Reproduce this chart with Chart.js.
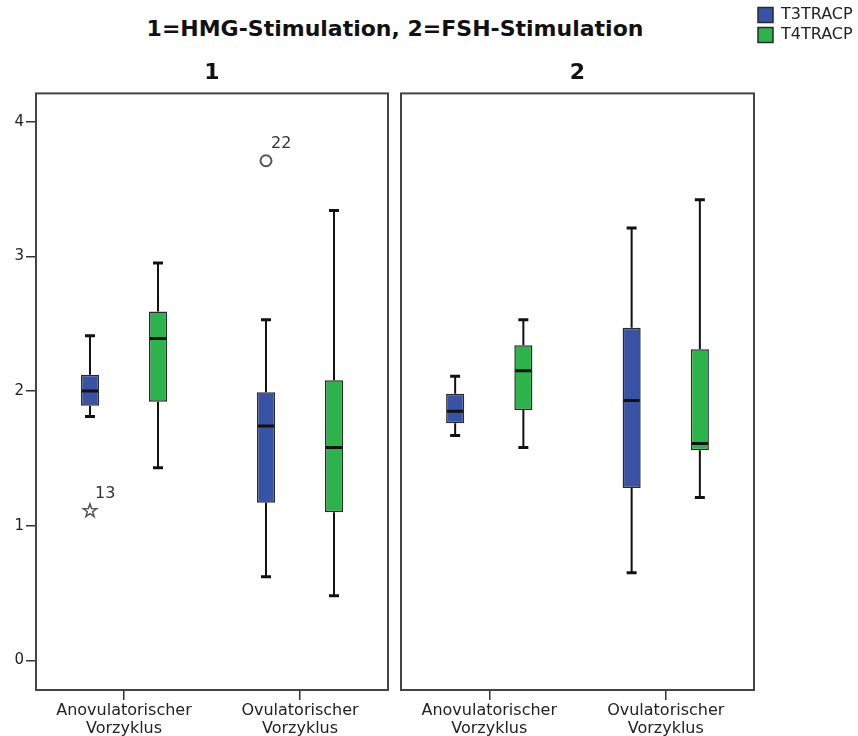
<!DOCTYPE html>
<html>
<head>
<meta charset="utf-8">
<script src="https://cdn.jsdelivr.net/npm/chart.js@4.4.1/dist/chart.umd.min.js"></script>
<style>
  html, body { margin: 0; padding: 0; background: #fff; }
  #wrap { position: relative; width: 858px; height: 736px; overflow: hidden; background: #fff; }
  #title { position: absolute; left: 0; top: 16px; width: 790px; text-align: center;
           font: bold 22px "DejaVu Sans"; line-height: 26px; color: #111; }
  #cA { position: absolute; left: 0; top: 0; }
  #cB { position: absolute; left: 395px; top: 0; }
</style>
</head>
<body>
<div id="wrap">
  <div id="title">1=HMG-Stimulation, 2=FSH-Stimulation</div>
  <canvas id="cA" width="395" height="736"></canvas>
  <canvas id="cB" width="463" height="736"></canvas>
</div>
<script>
// Kategorien, Reihen, Achse
const categories = [['Anovulatorischer', 'Vorzyklus'], ['Ovulatorischer', 'Vorzyklus']];
const seriesNames = ['T3TRACP', 'T4TRACP'];
const seriesColors = ['#3953a4', '#2db34b'];
const yTicks = [0, 1, 2, 3, 4];

// 1 = HMG-Stimulation
const hmgT3Min = [1.81, 0.62];
const hmgT3Q1  = [1.89, 1.17];
const hmgT3Med = [2.00, 1.74];
const hmgT3Q3  = [2.12, 1.99];
const hmgT3Max = [2.41, 2.53];
const hmgT4Min = [1.43, 0.48];
const hmgT4Q1  = [1.92, 1.10];
const hmgT4Med = [2.39, 1.58];
const hmgT4Q3  = [2.59, 2.08];
const hmgT4Max = [2.95, 3.34];
const hmgOutliers = [
  { series: 0, cat: 0, value: 1.11, label: '13', shape: 'star' },
  { series: 0, cat: 1, value: 3.71, label: '22', shape: 'circle' }
];

// 2 = FSH-Stimulation
const fshT3Min = [1.67, 0.65];
const fshT3Q1  = [1.76, 1.28];
const fshT3Med = [1.85, 1.93];
const fshT3Q3  = [1.98, 2.47];
const fshT3Max = [2.11, 3.21];
const fshT4Min = [1.58, 1.21];
const fshT4Q1  = [1.86, 1.56];
const fshT4Med = [2.15, 1.61];
const fshT4Q3  = [2.34, 2.31];
const fshT4Max = [2.53, 3.42];
const fshOutliers = [];

const FONT = 'DejaVu Sans';

// Whisker, Median, Ausreisser und Rahmen
const boxWhisker = {
  id: 'boxWhisker',
  afterDatasetsDraw(chart, args, opts) {
    const ctx = chart.ctx;
    const y = chart.scales.y;
    ctx.save();
    chart.data.datasets.forEach((ds, d) => {
      const st = ds.stats;
      chart.getDatasetMeta(d).data.forEach((bar, i) => {
        const x = bar.x, half = bar.width / 2, cap = 5;
        ctx.strokeStyle = '#111';
        ctx.lineWidth = 2;
        ctx.beginPath();
        ctx.moveTo(x, y.getPixelForValue(st.q3[i]));
        ctx.lineTo(x, y.getPixelForValue(st.max[i]));
        ctx.moveTo(x, y.getPixelForValue(st.q1[i]));
        ctx.lineTo(x, y.getPixelForValue(st.min[i]));
        ctx.stroke();
        ctx.lineWidth = 3;
        ctx.beginPath();
        [st.max[i], st.min[i]].forEach(v => {
          const py = y.getPixelForValue(v);
          ctx.moveTo(x - cap, py);
          ctx.lineTo(x + cap, py);
        });
        const pm = y.getPixelForValue(st.med[i]);
        ctx.moveTo(x - half + 1, pm);
        ctx.lineTo(x + half - 1, pm);
        ctx.stroke();
      });
    });

    (opts.points || []).forEach(p => {
      const bar = chart.getDatasetMeta(p.series).data[p.cat];
      const x = bar.x, py = y.getPixelForValue(p.value);
      ctx.strokeStyle = '#555';
      ctx.lineWidth = 2;
      ctx.beginPath();
      if (p.shape === 'circle') {
        ctx.arc(x, py, 5.5, 0, Math.PI * 2);
      } else {
        for (let k = 0; k < 10; k++) {
          const r = k % 2 ? 2.8 : 7;
          const a = -Math.PI / 2 + k * Math.PI / 5;
          const px = x + r * Math.cos(a), qy = py + r * Math.sin(a);
          if (k === 0) ctx.moveTo(px, qy); else ctx.lineTo(px, qy);
        }
        ctx.closePath();
        ctx.lineWidth = 1.5;
      }
      ctx.stroke();
      ctx.fillStyle = '#333';
      ctx.font = '16px "' + FONT + '"';
      ctx.textAlign = 'left';
      ctx.textBaseline = 'middle';
      ctx.fillText(p.label, x + 5, py - 17);
    });

    const a = chart.chartArea;
    ctx.strokeStyle = '#444';
    ctx.lineWidth = 2;
    ctx.strokeRect(a.left, a.top, a.right - a.left, a.bottom - a.top);
    ctx.restore();
  }
};

function makePanel(id, title, t3, t4, outliers, isLeft) {
  const stats = [t3, t4];
  return new Chart(document.getElementById(id), {
    type: 'bar',
    data: {
      labels: categories,
      datasets: seriesNames.map((name, s) => ({
        label: name,
        data: stats[s].q1.map((v, i) => [v, stats[s].q3[i]]),
        stats: stats[s],
        backgroundColor: seriesColors[s],
        borderColor: '#2a2a2a',
        borderWidth: 1.5,
        borderSkipped: false,
        categoryPercentage: 0.773,
        barPercentage: 0.265
      }))
    },
    options: {
      responsive: false,
      animation: false,
      events: [],
      layout: { padding: isLeft ? { top: 3, right: 7, left: 0, bottom: 0 } : { top: 3, right: 0, left: 6, bottom: 0 } },
      scales: {
        x: {
          offset: true,
          ticks: { font: { family: FONT, size: 16, lineHeight: 1.1 }, color: '#222', padding: 2, maxRotation: 0, autoSkip: false },
          grid: { offset: false, drawOnChartArea: false, drawTicks: true, tickLength: 10, color: '#333', lineWidth: 1.5 },
          border: { display: false },
          afterFit: s => { s.height = 46; s.paddingLeft = 0; s.paddingRight = 0; }
        },
        y: {
          display: isLeft,
          min: -0.22,
          max: 4.21,
          afterBuildTicks: s => { s.ticks = yTicks.map(v => ({ value: v })); },
          afterFit: s => { s.width = isLeft ? 36 : 0; },
          ticks: { font: { family: FONT, size: 15 }, color: '#222', padding: 2 },
          grid: { drawOnChartArea: false, drawTicks: true, tickLength: 10, color: '#333', lineWidth: 1.5 },
          border: { display: false }
        }
      },
      plugins: {
        title: {
          display: true,
          text: title,
          fullSize: false,
          color: '#111',
          font: { family: FONT, size: 22, weight: 'bold' },
          padding: { top: 57, bottom: 7 }
        },
        legend: {
          display: !isLeft,
          position: 'right',
          align: 'start',
          fullSize: true,
          maxWidth: 104,
          labels: { boxWidth: 15, boxHeight: 15, padding: 4, color: '#222', font: { family: FONT, size: 16 } }
        },
        tooltip: { enabled: false },
        boxWhisker: { points: outliers }
      }
    },
    plugins: [boxWhisker]
  });
}

makePanel('cA', '1',
  { min: hmgT3Min, q1: hmgT3Q1, med: hmgT3Med, q3: hmgT3Q3, max: hmgT3Max },
  { min: hmgT4Min, q1: hmgT4Q1, med: hmgT4Med, q3: hmgT4Q3, max: hmgT4Max },
  hmgOutliers, true);

makePanel('cB', '2',
  { min: fshT3Min, q1: fshT3Q1, med: fshT3Med, q3: fshT3Q3, max: fshT3Max },
  { min: fshT4Min, q1: fshT4Q1, med: fshT4Med, q3: fshT4Q3, max: fshT4Max },
  fshOutliers, false);
</script>
</body>
</html>
